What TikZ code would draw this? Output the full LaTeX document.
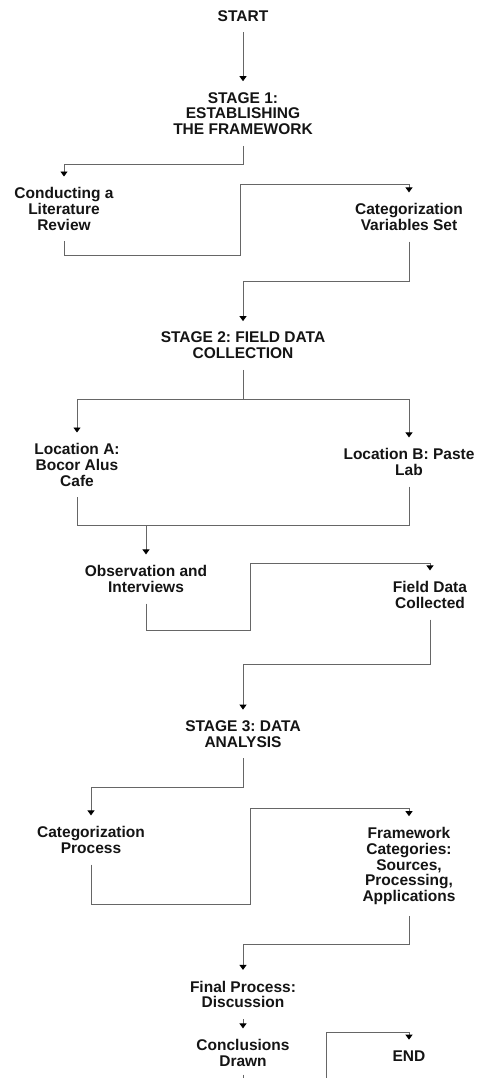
\documentclass[tikz,border=0pt]{standalone}
\usepackage{fontspec}
\setmainfont{Liberation Sans}
\usetikzlibrary{arrows.meta}
\definecolor{linkgray}{HTML}{666666}
\definecolor{inkblack}{HTML}{141414}
\frenchspacing

\begin{document}
\begin{tikzpicture}[
    x=1pt, y=-1pt,
    box/.style={align=center, inner xsep=0pt, inner ysep=11pt, outer sep=0pt,
      text=inkblack, font=\bfseries\fontsize{15.5}{15.8}\selectfont},
    wire/.style={draw=linkgray, line width=0.9pt},
    link/.style={wire, -{Triangle[width=7pt,length=5pt,color=black]}}
  ]
  \useasboundingbox (0,0) rectangle (477,1078);
  \clip (0,0) rectangle (477,1078);

  \node[box] (start)      at (243,16)    {START};
  \node[box] (stageone)   at (243,113.5) {STAGE 1:\\ESTABLISHING\\THE FRAMEWORK};
  \node[box] (litrev)     at (64,209)    {Conducting a\\Literature\\Review};
  \node[box] (catvar)     at (409,217)   {Categorization\\Variables Set};
  \node[box] (stagetwo)   at (243,345.5) {STAGE 2: FIELD DATA\\COLLECTION};
  \node[box] (loca)       at (77,465)    {Location A:\\Bocor Alus\\Cafe};
  \node[box] (locb)       at (409,462)   {Location B: Paste\\Lab};
  \node[box] (obs)        at (146,579)   {Observation and\\Interviews};
  \node[box] (fielddata)  at (430,595)   {Field Data\\Collected};
  \node[box] (stagethree) at (243,734)   {STAGE 3: DATA\\ANALYSIS};
  \node[box] (catproc)    at (91,840)    {Categorization\\Process};
  \node[box] (fwcat)      at (409,866)   {Framework\\Categories:\\Sources,\\Processing,\\Applications};
  \node[box] (final)      at (243,994.5) {Final Process:\\Discussion};
  \node[box] (concl)      at (243,1053)  {Conclusions\\Drawn};
  \node[box] (endnode)    at (409,1056)  {END};

  \coordinate (fork)    at (243,399);
  \coordinate (merge)   at (146,525);
  \coordinate (offpage) at (243,1090);
  \coordinate (offend)  at (326,1090);

  \draw[link] (start.south) -- (stageone.north);
  \draw[link] (stageone.south) -- (243,164) -| (litrev.north);
  \draw[link] (litrev.south) -- (64,255) -- (240,255) -- (240,184) -| (catvar.north);
  \draw[link] (catvar.south) -- (409,281) -| (stagetwo.north);
  \draw[wire] (stagetwo.south) -- (fork);
  \draw[link] (fork) -| (loca.north);
  \draw[link] (fork) -| (locb.north);
  \draw[wire] (loca.south) |- (merge);
  \draw[wire] (locb.south) |- (merge);
  \draw[link] (merge) -- (obs.north);
  \draw[link] (obs.south) -- (146,630) -- (250,630) -- (250,563) -| (fielddata.north);
  \draw[link] (fielddata.south) -- (430,664) -| (stagethree.north);
  \draw[link] (stagethree.south) -- (243,787) -| (catproc.north);
  \draw[link] (catproc.south) -- (91,904) -- (250,904) -- (250,808) -| (fwcat.north);
  \draw[link] (fwcat.south) -- (409,944) -| (final.north);
  \draw[link] (final.south) -- (concl.north);
  \draw[wire] ([yshift=3pt]concl.south) -- (offpage);
  \draw[link] (offend) -- (326,1032) -| (endnode.north);
\end{tikzpicture}
\end{document}
